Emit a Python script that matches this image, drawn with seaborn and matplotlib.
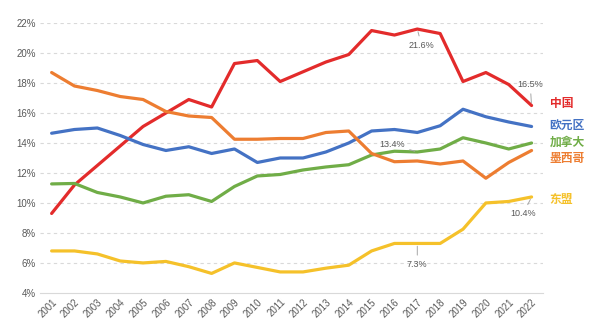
import matplotlib
matplotlib.use("Agg")
import matplotlib.pyplot as plt
import seaborn as sns
import pandas as pd

years = [str(y) for y in range(2001, 2023)]
china = [9.3, 11.2, 12.5, 13.8, 15.1, 16.0, 16.9, 16.4, 19.3, 19.5, 18.1, 18.75, 19.4, 19.9,
         21.5, 21.2, 21.6, 21.3, 18.1, 18.7, 17.9, 16.5]
eurozone = [14.65, 14.9, 15.0, 14.5, 13.9, 13.5, 13.75, 13.3, 13.6, 12.7, 13.0, 13.0, 13.4, 14.0,
            14.8, 14.9, 14.7, 15.15, 16.25, 15.75, 15.4, 15.1]
canada = [11.27, 11.3, 10.7, 10.4, 10.0, 10.45, 10.55, 10.1, 11.1, 11.8, 11.9, 12.2, 12.4, 12.55,
          13.2, 13.45, 13.4, 13.6, 14.35, 14.0, 13.6, 14.0]
mexico = [18.7, 17.8, 17.5, 17.1, 16.9, 16.1, 15.8, 15.7, 14.25, 14.25, 14.3, 14.3, 14.7, 14.8,
          13.3, 12.75, 12.8, 12.6, 12.8, 11.65, 12.7, 13.5]
asean = [6.8, 6.8, 6.6, 6.13, 6.0, 6.1, 5.75, 5.3, 6.0, 5.7, 5.4, 5.4, 5.65, 5.85,
         6.8, 7.3, 7.3, 7.3, 8.25, 10.0, 10.1, 10.4]
series_names = ["中国", "欧元区", "加拿大", "墨西哥", "东盟"]
yticks = [4, 6, 8, 10, 12, 14, 16, 18, 20, 22]

colors = {"中国": "#E32B2B", "欧元区": "#4472C4", "加拿大": "#70AD47",
          "墨西哥": "#ED7D31", "东盟": "#F5C12A"}

frames = []
for name, vals in zip(series_names, [china, eurozone, canada, mexico, asean]):
    frames.append(pd.DataFrame({"year": years, "value": vals, "series": name}))
df = pd.concat(frames, ignore_index=True)

sns.set_theme(style="white")
plt.rcParams["font.family"] = ["Noto Sans CJK SC", "DejaVu Sans"]

fig = plt.figure(figsize=(6.0, 3.34), dpi=100)
ax = fig.add_axes([0.067, 0.123, 0.838, 0.808])

sns.lineplot(data=df, x="year", y="value", hue="series", palette=colors,
             linewidth=2.3, legend=False, ax=ax, sort=False)

ax.set_xlim(-0.5, len(years) - 0.5)
ax.set_ylim(4, 22)
ax.set_yticks(yticks)
ax.set_yticklabels([f"{t}%" for t in yticks], fontsize=7, color="#595959",
                   family=["Liberation Sans", "DejaVu Sans"])
ax.set_xticks(range(len(years)))
ax.set_xticklabels(years, rotation=45, ha="right", rotation_mode="anchor",
                   fontsize=7, color="#595959", family=["Liberation Sans", "DejaVu Sans"])
ax.tick_params(axis="both", length=0, pad=3)
ax.set_xlabel("")
ax.set_ylabel("")
for t in yticks[1:]:
    ax.axhline(t, color="#D9D9D9", lw=0.8, ls=(0, (3, 3)), zorder=0)
for s in ["top", "right", "left"]:
    ax.spines[s].set_visible(False)
ax.spines["bottom"].set_color("#D9D9D9")
ax.spines["bottom"].set_linewidth(0.8)

# series labels at right
label_offsets = {"中国": 1.5, "欧元区": 0.5, "加拿大": 0.3, "墨西哥": -6.0, "东盟": -2.0}
last_vals = {"中国": china[-1], "欧元区": eurozone[-1], "加拿大": canada[-1],
             "墨西哥": mexico[-1], "东盟": asean[-1]}
for name in series_names:
    ax.annotate(name, xy=(len(years) - 1, last_vals[name]), xytext=(13, label_offsets[name]),
                textcoords="offset points", ha="left", va="center", fontsize=8.5,
                fontweight="bold", color=colors[name], annotation_clip=False)

# value annotations
gray = "#595959"
leader = dict(arrowstyle="-", color="#A6A6A6", lw=0.7, shrinkA=1, shrinkB=2)
i17 = years.index("2017")
i22 = years.index("2022")
ax.annotate(f"{china[i17]:.1f}%", xy=(i17, china[i17]), xytext=(3, -11.5),
            textcoords="offset points", ha="center", va="center", fontsize=6.5,
            color=gray, arrowprops=leader, family=["Liberation Sans", "DejaVu Sans"])
ax.annotate(f"{china[i22]:.1f}%", xy=(i22, china[i22]), xytext=(-1, 15),
            textcoords="offset points", ha="center", va="center", fontsize=6.5,
            color=gray, arrowprops=leader, family=["Liberation Sans", "DejaVu Sans"])
ax.annotate(f"{canada[i17]:.1f}%", xy=(i17, canada[i17]), xytext=(-18, 5.5),
            textcoords="offset points", ha="center", va="center", fontsize=6.5,
            color=gray, arrowprops=leader, family=["Liberation Sans", "DejaVu Sans"])
ax.annotate(f"{asean[i22]:.1f}%", xy=(i22, asean[i22]), xytext=(-6, -12),
            textcoords="offset points", ha="center", va="center", fontsize=6.5,
            color=gray, arrowprops=leader, family=["Liberation Sans", "DejaVu Sans"])
ax.annotate(f"{asean[i17]:.1f}%", xy=(i17, asean[i17]), xytext=(0, -15),
            textcoords="offset points", ha="center", va="center", fontsize=6.5,
            color=gray, arrowprops=leader, family=["Liberation Sans", "DejaVu Sans"])

fig.savefig("out.png", dpi=100)
